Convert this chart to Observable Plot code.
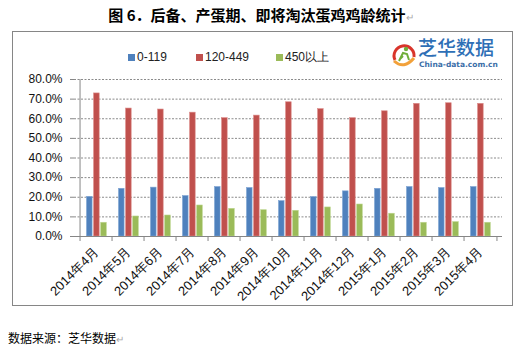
<!DOCTYPE html>
<html><head><meta charset="utf-8">
<script src="https://cdn.jsdelivr.net/npm/d3@7"></script>
<script src="https://cdn.jsdelivr.net/npm/@observablehq/plot@0.6"></script>
<style>
body{margin:0;background:#fff;width:522px;height:352px;position:relative;overflow:hidden;font-family:"Liberation Sans",Arial,sans-serif;}
#title{position:absolute;left:0;top:5px;width:522px;text-align:center;font-family:"Noto Sans CJK SC",sans-serif;font-weight:bold;font-size:15px;color:#000;line-height:20px;}
.ret{color:#aaa;font-weight:normal;font-size:10px;}
#frame{position:absolute;left:12px;top:31px;width:499px;height:273px;border:1px solid #868686;}
#chart{position:absolute;left:12px;top:31px;}
#legend{position:absolute;top:50px;left:0;font-size:12px;color:#222;}
.li{position:absolute;white-space:nowrap;line-height:14px;}
.sw{display:inline-block;width:7px;height:7px;margin-right:2px;vertical-align:0px;}
#logo{position:absolute;left:390px;top:38px;width:110px;height:34px;}
#logo .cn{position:absolute;left:28px;top:-2px;font-family:"Noto Sans CJK SC",sans-serif;font-size:19px;color:#2e6fb6;letter-spacing:0px;line-height:22px;font-weight:500;}
#logo .en{position:absolute;left:29px;top:22px;font-family:"DejaVu Sans",sans-serif;font-weight:bold;font-size:7.5px;color:#3b6ea8;line-height:9px;}
#caption{position:absolute;left:8px;top:329px;font-family:"Noto Sans CJK SC",sans-serif;font-size:12px;color:#000;}
</style></head>
<body>
<div id="title">图 6．后备、产蛋期、即将淘汰蛋鸡鸡龄统计<span class="ret">↵</span></div>
<div id="frame"></div>
<div id="chart"></div>
<div id="legend"></div>
<div id="logo">
<svg width="28" height="30" style="position:absolute;left:0;top:2px">
<path d="M5,20 A10,10 0 1,1 24,17" fill="none" stroke="#d9342b" stroke-width="3"/>
<path d="M4,21 Q14,30 24,18" fill="none" stroke="#f2a13a" stroke-width="3"/>
<circle cx="16" cy="9" r="2.2" fill="#6fae3a"/>
<path d="M9,21 L13,13 L17,14 L19,20 M13,16 L10,19" fill="none" stroke="#6fae3a" stroke-width="2"/>
</svg>
<div class="cn">芝华数据</div>
<div class="en">China-data.com.cn</div>
</div>
<div id="caption">数据来源：芝华数据<span class="ret">↵</span></div>
<script>
const months = ["2014年4月","2014年5月","2014年6月","2014年7月","2014年8月","2014年9月","2014年10月","2014年11月","2014年12月","2015年1月","2015年2月","2015年3月","2015年4月"];
const seriesNames = ["0-119","120-449","450以上"];
const seriesColors = ["#4f81bd","#c0504d","#9bbb59"];
const seriesEdges = ["#7ea3d3","#dc8a88","#bcd58e"];
const young = [20.2,24.3,24.9,20.6,25.2,24.7,18.0,20.1,23.0,24.3,25.2,24.7,25.2];
const laying = [72.9,65.2,64.7,63.1,60.3,61.6,68.4,64.9,60.3,63.8,67.6,67.9,67.6];
const old = [7.0,10.2,10.7,15.8,14.1,13.4,13.1,14.8,16.3,11.6,7.0,7.3,7.0];

const seriesValues = [young, laying, old];
const W = 500, H = 274, mL = 62, mR = 10, mT = 48, mB = 69;
const bw = (W - mL - mR) / months.length;
const barW = 7.1, off = 6.2;

const barMarks = seriesValues.map((vals, s) => Plot.barY(months.map((m, i) => ({month: m, v: vals[i] / 100})), {
  x: "month", y: "v", fill: seriesColors[s], stroke: seriesEdges[s], strokeWidth: 0.6,
  insetLeft: off + s * barW + 0.3, insetRight: bw - off - (s + 1) * barW + 0.3
}));

const chart = Plot.plot({
  width: W, height: H, marginLeft: mL, marginRight: mR, marginTop: mT, marginBottom: mB,
  style: {fontFamily: "Liberation Sans, Arial, sans-serif", fontSize: "12px", color: "#111", background: "transparent"},
  x: {domain: months, padding: 0, label: null},
  y: {domain: [0, 0.8], label: null},
  marks: [
    Plot.gridY({ticks: 8, stroke: "#8a8a8a", strokeOpacity: 1, strokeDasharray: "2,1.5"}),
    ...barMarks,
    Plot.ruleY([0], {stroke: "#868686"}),
    Plot.ruleX([months[0]], {dx: -bw / 2, stroke: "#868686"}),
    Plot.axisY({ticks: 8, tickFormat: d3.format(".1%"), tickSize: 4, tickPadding: 8, stroke: "#868686", fill: "#111", label: null}),
    Plot.axisX({text: null, tickSize: 5, dx: -bw / 2, stroke: "#868686", label: null}),
    Plot.axisX({ticks: [months[months.length - 1]], text: null, tickSize: 5, dx: bw / 2, stroke: "#868686", label: null}),
    Plot.axisX({tickSize: 0, tickPadding: 13, tickRotate: -45, fontSize: 13, fill: "#111", label: null})
  ]
});
document.getElementById("chart").appendChild(chart);

const legendPos = [128, 196, 276];
const legend = document.getElementById("legend");
seriesNames.forEach((n, i) => {
  const d = document.createElement("div");
  d.className = "li";
  d.style.left = legendPos[i] + "px";
  d.innerHTML = `<span class="sw" style="background:${seriesColors[i]}"></span>${n}`;
  legend.appendChild(d);
});
</script>
</body></html>
